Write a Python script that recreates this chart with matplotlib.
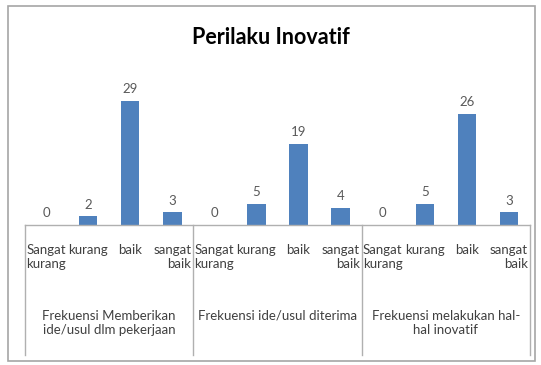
import matplotlib

matplotlib.use("Agg")

import matplotlib.pyplot as plt
from matplotlib.patches import Rectangle
from matplotlib.transforms import blended_transform_factory

plt.rcParams["font.family"] = ["Lato", "DejaVu Sans"]

title = "Perilaku Inovatif"
levels = ["Sangat\nkurang", "kurang", "baik", "sangat\nbaik"]
groups = [
    "Frekuensi Memberikan\nide/usul dlm pekerjaan",
    "Frekuensi ide/usul diterima",
    "Frekuensi melakukan hal-\nhal inovatif",
]
values_memberikan = [0, 2, 29, 3]
values_diterima = [0, 5, 19, 4]
values_inovatif = [0, 5, 26, 3]

W, H = 541, 365
bar_color = "#4F81BD"
line_color = "#B0B0B0"

fig = plt.figure(figsize=(W / 100, H / 100), dpi=100)
fig.patch.set_facecolor("white")

# outer chart border
fig.patches.append(Rectangle((8 / W, 1 - 361 / H), 527 / W, 355 / H,
                             transform=fig.transFigure, fill=False,
                             edgecolor="#A6A6A6", linewidth=1.2))

fig.text(0.5, 1 - 38 / H, title, ha="center", va="center",
         fontsize=15.5, fontweight="bold", color="#000000")

# plot area: baseline at y=225px, 0..35 spans 150px
ax = fig.add_axes([25 / W, 1 - 225 / H, 505 / W, 150 / H])

all_values = values_memberikan + values_diterima + values_inovatif
x = list(range(len(all_values)))
bars = ax.bar(x, all_values, width=0.44, color=bar_color, zorder=2)

for xi, v in zip(x, all_values):
    ax.annotate(str(v), (xi, v), xytext=(0, 4), textcoords="offset points",
                ha="center", va="bottom", fontsize=9.5, color="#595959")

ax.set_xlim(-0.5, len(all_values) - 0.5)
ax.set_ylim(0, 35)
ax.axis("off")

# multi-level category axis drawn under the plot area
tr = blended_transform_factory(ax.transData, fig.transFigure)


def fy(px):
    return 1 - px / H


ax.plot([-0.5, len(all_values) - 0.5], [fy(225), fy(225)], transform=tr,
        color=line_color, linewidth=1, clip_on=False)
for g in range(len(groups) + 1):
    xs = g * len(levels) - 0.5
    ax.plot([xs, xs], [fy(225), fy(355)], transform=tr, color=line_color,
            linewidth=1, clip_on=False)

for g, gname in enumerate(groups):
    for i, lab in enumerate(levels):
        xi = g * len(levels) + i
        align = "left" if i == 0 else ("right" if i == len(levels) - 1 else "center")
        ax.text(xi, fy(244), lab, transform=tr, ha="center", va="top",
                multialignment=align, fontsize=9.5, color="#404040",
                linespacing=1.2)
    xc = g * len(levels) + (len(levels) - 1) / 2
    ax.text(xc, fy(310), gname, transform=tr, ha="center", va="top",
            multialignment="center", fontsize=9.5, color="#404040",
            linespacing=1.25)

fig.savefig("out.png", dpi=100)
